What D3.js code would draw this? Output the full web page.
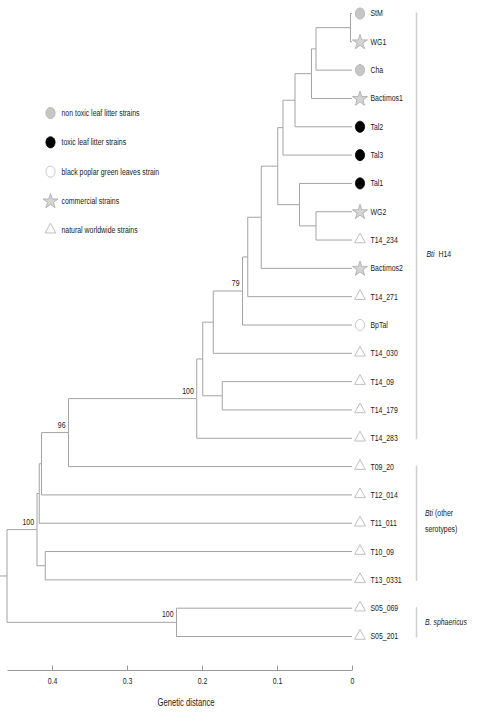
<!DOCTYPE html>
<html><head><meta charset="utf-8">
<script src="https://cdn.jsdelivr.net/npm/d3@7"></script>
<style>
html,body{margin:0;padding:0;background:#fff;}
svg{display:block;font-family:"Liberation Sans",Arial,sans-serif;}
</style></head>
<body>
<svg id="chart" width="478" height="712"></svg>
<script>
// ---- data ----
const leaves = ["StM","WG1","Cha","Bactimos1","Tal2","Tal3","Tal1","WG2","T14_234","Bactimos2","T14_271","BpTal","T14_030","T14_09","T14_179","T14_283","T09_20","T12_014","T11_011","T10_09","T13_0331","S05_069","S05_201"];
const leafTypes = ["nontoxic","commercial","nontoxic","commercial","toxic","toxic","toxic","commercial","natural","commercial","natural","poplar","natural","natural","natural","natural","natural","natural","natural","natural","natural","natural","natural"];
// internal nodes: [name, childA, childB, genetic distance (height), bootstrap]
const nodeNames   = ["n1","n2","n3","n4","n5","n6","n7","n8","n9","n10","n11","n12","n13","n14","n15","n16","n17","n18","n19","n20","n21","root"];
const nodeChildA  = ["StM","n1","n2","n3","n4","WG2","Tal1","n5","n8","n9","n10","n11","T14_09","n12","n14","n15","n16","n17","T10_09","n18","S05_069","n20"];
const nodeChildB  = ["WG1","Cha","Bactimos1","Tal2","Tal3","T14_234","n6","n7","Bactimos2","T14_271","BpTal","T14_030","T14_179","n13","T14_283","T09_20","T12_014","T11_011","T13_0331","n19","S05_201","n21"];
const nodeHeights = [0.002,0.048,0.054,0.076,0.092,0.048,0.070,0.099,0.121,0.139,0.146,0.185,0.173,0.199,0.207,0.378,0.414,0.417,0.409,0.420,0.234,0.460];
const nodeSupport = ["","","","","","","","","","","79","","","","100","96","","","","100","100",""];
const tickValues = [0.4,0.3,0.2,0.1,0];
const tickLabels = ["0.4","0.3","0.2","0.1","0"];
const legendKeys = ["nontoxic","toxic","poplar","commercial","natural"];
const legendLabels = ["non toxic leaf litter strains","toxic leaf litter strains","black poplar green leaves strain","commercial strains","natural worldwide strains"];
const groupNames = ["Bti H14","Bti (other serotypes)","B. sphaericus"];
const groupFirst = ["StM","T09_20","S05_069"];
const groupLast  = ["T14_283","T13_0331","S05_201"];

// ---- build hierarchy ----
const byName = {};
leaves.forEach((n,i)=>{ byName[n] = {name:n, height:0, type:leafTypes[i], leafIndex:i}; });
nodeNames.forEach((n,i)=>{ byName[n] = {name:n, height:nodeHeights[i], support:nodeSupport[i], children:[]}; });
nodeNames.forEach((n,i)=>{ byName[n].children = [byName[nodeChildA[i]], byName[nodeChildB[i]]]; });
const root = d3.hierarchy(byName["root"]);

const svg = d3.select("#chart");
const SX = 0.73;
const x = d3.scaleLinear().domain([0.46,0]).range([7,352]);
const y = d3.scalePoint().domain(leaves).range([13.5,636.5]);

root.eachAfter(d=>{
  d.px = x(d.data.height);
  if(!d.children) d.py = y(d.data.name);
  else d.py = d3.mean(d.children, c=>c.py);
});

function ctext(parent, tx, ty, str, opts={}){
  const g = parent.append("g").attr("transform",`translate(${tx},${ty})`);
  const t = g.append("text").attr("transform",`scale(${SX},1)`)
    .attr("font-size", opts.size||9.5).attr("fill", opts.fill||"#1a1a1a")
    .attr("text-anchor", opts.anchor||"start").attr("dominant-baseline", opts.baseline||"middle");
  if(opts.italic) t.attr("font-style","italic");
  t.text(str);
  return t;
}

// ---- links ----
const linkG = svg.append("g").attr("fill","none").attr("stroke","#a3a3a3").attr("stroke-width",1);
linkG.selectAll("path").data(root.links()).join("path")
  .attr("d", l=>`M${l.source.px},${l.source.py}V${l.target.py}H${l.target.px}`);
// root stem
linkG.append("path").attr("d", `M${root.px},${root.py}H0`);

// ---- bootstrap labels ----
root.descendants().filter(d=>d.children && d.data.support).forEach(d=>{
  ctext(svg, d.px-3, d.py-5, d.data.support, {anchor:"end", baseline:"auto", size:9.5});
});

// ---- markers ----
const markerStyle = {
  nontoxic:{fill:"#c6c6c6",stroke:"#b0b0b0"},
  toxic:{fill:"#000",stroke:"#000"},
  poplar:{fill:"#fff",stroke:"#bdbdbd"},
  commercial:{fill:"#d4d4d4",stroke:"#a8a8a8"},
  natural:{fill:"#fff",stroke:"#b0b0b0"}
};
function drawMarker(g, type, cx, cy){
  const s = markerStyle[type];
  if(type==="commercial"){
    g.append("path").attr("d", d3.symbol(d3.symbolStar, 70)())
      .attr("transform",`translate(${cx},${cy+0.5})`).attr("fill",s.fill).attr("stroke",s.stroke).attr("stroke-width",0.8);
  } else if(type==="natural"){
    g.append("path").attr("d", d3.symbol(d3.symbolTriangle, 50)())
      .attr("transform",`translate(${cx},${cy-0.5}) scale(1,1.05)`).attr("fill",s.fill).attr("stroke",s.stroke).attr("stroke-width",0.8);
  } else {
    g.append("ellipse").attr("cx",cx).attr("cy",cy).attr("rx",4.6).attr("ry",5.6)
      .attr("fill",s.fill).attr("stroke",s.stroke).attr("stroke-width",0.8);
  }
}
const leafG = svg.append("g");
root.leaves().forEach(d=>{
  drawMarker(leafG, d.data.type, 360, d.py);
  ctext(leafG, 370.5, d.py+0.5, d.data.name);
});

// ---- group brackets ----
groupNames.forEach((gname,i)=>{
  const y0 = y(groupFirst[i]) - 1, y1 = y(groupLast[i]) + 1;
  svg.append("line").attr("x1",416.5).attr("x2",416.5).attr("y1",y0).attr("y2",y1)
    .attr("stroke","#cfcfcf").attr("stroke-width",1.5);
});
{
  const t = ctext(svg, 426.5, 255, "", {size:9.5});
  t.append("tspan").attr("font-style","italic").text("Bti");
  t.append("tspan").text("\u00a0 H14");
  const t2 = ctext(svg, 425, 514, "", {size:9.5});
  t2.append("tspan").attr("font-style","italic").text("Bti");
  t2.append("tspan").text(" (other");
  ctext(svg, 425, 530, "serotypes)", {size:9.5});
  ctext(svg, 425, 623, "B. sphaericus", {size:9.5, italic:true});
}

// ---- axis ----
const axis = d3.axisBottom(x).tickValues(tickValues).tickFormat((d,i)=>tickLabels[i])
  .tickSize(-4.5).tickSizeOuter(0).tickPadding(7);
const ax = svg.append("g").attr("transform","translate(0,670)").call(axis);
ax.select(".domain").attr("stroke","#999");
ax.selectAll(".tick line").attr("stroke","#999");
ax.selectAll(".tick text").attr("transform",`scale(${SX},1)`).attr("font-size",9.5)
  .attr("font-family","'Liberation Sans',Arial,sans-serif").attr("fill","#1a1a1a");
ctext(svg, 186, 703, "Genetic distance", {anchor:"middle", size:10.5});

// ---- legend ----
const legG = svg.append("g");
legendKeys.forEach((k,i)=>{
  const ly = 113 + i*29.3;
  drawMarker(legG, k, 50.5, ly);
  ctext(legG, 61.5, ly+0.5, legendLabels[i], {size:9.5});
});
</script>
</body></html>
